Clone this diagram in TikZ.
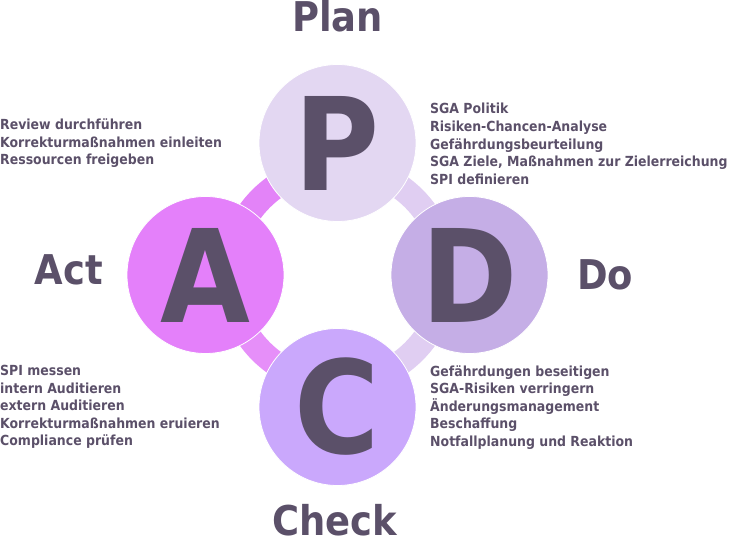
\documentclass[tikz,border=0pt]{standalone}
\usepackage{fontspec}
\setmainfont{DejaVu Sans Condensed}
\usepackage{xcolor}
\usepackage{tikz}
\usetikzlibrary{positioning}

\definecolor{ink}{HTML}{5B5069}
\definecolor{planfill}{HTML}{E3D7F2}
\definecolor{dofill}{HTML}{C5AEE6}
\definecolor{checkfill}{HTML}{CAA8FC}
\definecolor{actfill}{HTML}{E480FA}
\definecolor{ringpink}{HTML}{E383F8}
\definecolor{ringlilac}{HTML}{E0CEF2}

\begin{document}
\begin{tikzpicture}[x=1pt, y=-1pt,
  phase/.style={circle, minimum size=157pt, inner sep=0pt, draw=white, line width=0.8pt,
    text=ink, font=\fontsize{129}{129}\selectfont\bfseries},
  stage/.style={text=ink, font=\fontsize{41}{41}\selectfont\bfseries, inner sep=0pt, anchor=base},
  notes/.style={text=ink, font=\fontsize{13.9}{17.6}\selectfont\bfseries, align=left,
    inner sep=0pt, anchor=base west},
  ring/.style={line width=25pt}]
\useasboundingbox (0,0) rectangle (729,540);

% Ring behind the circles
\coordinate (ring) at (337.5,275);
\draw[ring, ringpink] (ring) ++(180:108) arc[start angle=180, end angle=270, radius=108];
\draw[ring, ringlilac] (ring) ++(270:108) arc[start angle=270, end angle=360, radius=108];
\draw[ring, ringlilac] (ring) ++(0:108) arc[start angle=0, end angle=90, radius=108];
\draw[ring, ringpink!90!white] (ring) ++(90:108) arc[start angle=90, end angle=180, radius=108];

% Phase circles
\node[phase, fill=planfill] (P) at (337.5,143) {P};
\node[phase, fill=dofill] (D) at (469.5,275) {D};
\node[phase, fill=checkfill] (C) at (337.5,407) {C};
\node[phase, fill=actfill] (A) at (205.5,275) {A};

% Phase names
\node[stage] (plan) at (337.5,32) {Plan};
\node[stage] (do) at (605,290) {Do};
\node[stage] (check) at (335,535) {Check};
\node[stage] (act) at (69,285) {Act};

% Tasks per phase (anchored at the last line)
\node[notes] (plannotes) at (430,184.4) {SGA Politik\\Risiken-Chancen-Analyse\\Gefährdungsbeurteilung\\SGA Ziele, Maßnahmen zur Zielerreichung\\SPI definieren};
\node[notes] (donotes) at (430,446.4) {Gefährdungen beseitigen\\SGA-Risiken verringern\\Änderungsmanagement\\Beschaffung\\Notfallplanung und Reaktion};
\node[notes] (checknotes) at (0,445.9) {SPI messen\\intern Auditieren\\extern Auditieren\\Korrekturmaßnahmen eruieren\\Compliance prüfen};
\node[notes] (actnotes) at (0,164.8) {Review durchführen\\Korrekturmaßnahmen einleiten\\Ressourcen freigeben};
\end{tikzpicture}
\end{document}
